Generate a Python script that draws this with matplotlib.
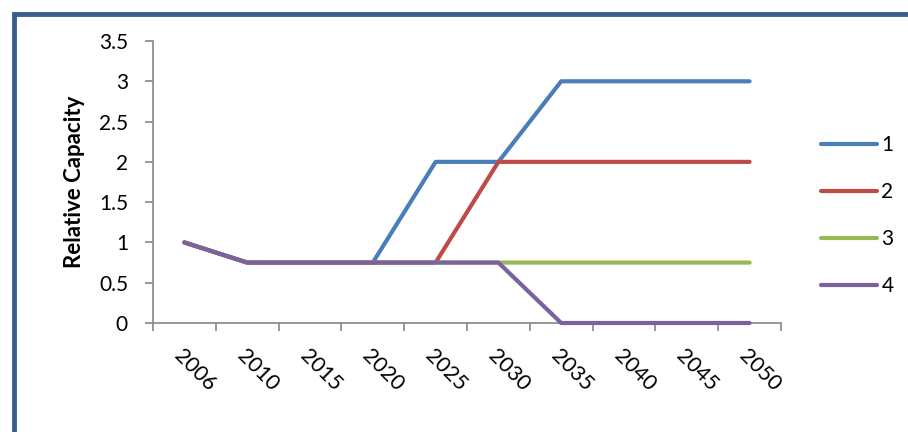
import numpy as np
import matplotlib.pyplot as plt
from matplotlib.patches import Rectangle

years = ["2006", "2010", "2015", "2020", "2025", "2030", "2035", "2040", "2045", "2050"]
s1 = [1, 0.75, 0.75, 0.75, 2, 2, 3, 3, 3, 3]
s2 = [1, 0.75, 0.75, 0.75, 0.75, 2, 2, 2, 2, 2]
s3 = [1, 0.75, 0.75, 0.75, 0.75, 0.75, 0.75, 0.75, 0.75, 0.75]
s4 = [1, 0.75, 0.75, 0.75, 0.75, 0.75, 0, 0, 0, 0]
names = ["1", "2", "3", "4"]
colors = ["#4A7EBB", "#BE4B48", "#98B954", "#7D60A0"]

plt.rcParams['font.family'] = ['Lato', 'DejaVu Sans']

fig = plt.figure(figsize=(9.08, 4.32), dpi=100)
ax = fig.add_axes([153/908, 1-323/432, 628/908, 282/432])

x = np.arange(len(years)) + 0.5
for s, n, c in zip([s1, s2, s3, s4], names, colors):
    ax.plot(x, s, color=c, lw=3, label=n, solid_capstyle='round',
            solid_joinstyle='round', clip_on=False, zorder=3)

ax.set_xlim(0, len(years))
ax.set_ylim(0, 3.5)
ax.set_yticks(np.arange(0, 3.51, 0.5))
ax.set_yticklabels(["0", "0.5", "1", "1.5", "2", "2.5", "3", "3.5"], fontsize=15)
ax.set_xticks(np.arange(0, len(years)+1))
ax.set_xticklabels([])
ax.set_xticks(x, minor=True)
ax.set_xticklabels(years, minor=True, rotation=-45, ha='left', va='top',
                   rotation_mode='anchor', fontsize=15.5)
ax.tick_params(axis='x', which='minor', length=0, pad=16)
ax.tick_params(axis='both', which='major', length=6, color='#868686', width=1.2)
ax.tick_params(axis='y', pad=12)
for sp in ['top', 'right']:
    ax.spines[sp].set_visible(False)
for sp in ['left', 'bottom']:
    ax.spines[sp].set_color('#868686')
    ax.spines[sp].set_linewidth(1.2)

ax.set_ylabel("Relative Capacity", fontsize=16, fontweight='bold', labelpad=10)

ax.legend(loc='center left', bbox_to_anchor=(821/908, 1-215.5/432),
          bbox_transform=fig.transFigure, frameon=False, borderpad=0, borderaxespad=0,
          fontsize=15, handlelength=2.7, handletextpad=0.2, labelspacing=1.3)

fig.patches.append(Rectangle((14/908, -0.1), 1.2, (1-14/432)+0.1, transform=fig.transFigure,
                             fill=False, edgecolor='#3B5F8C', lw=3.5))

fig.savefig("out.png", dpi=100)
